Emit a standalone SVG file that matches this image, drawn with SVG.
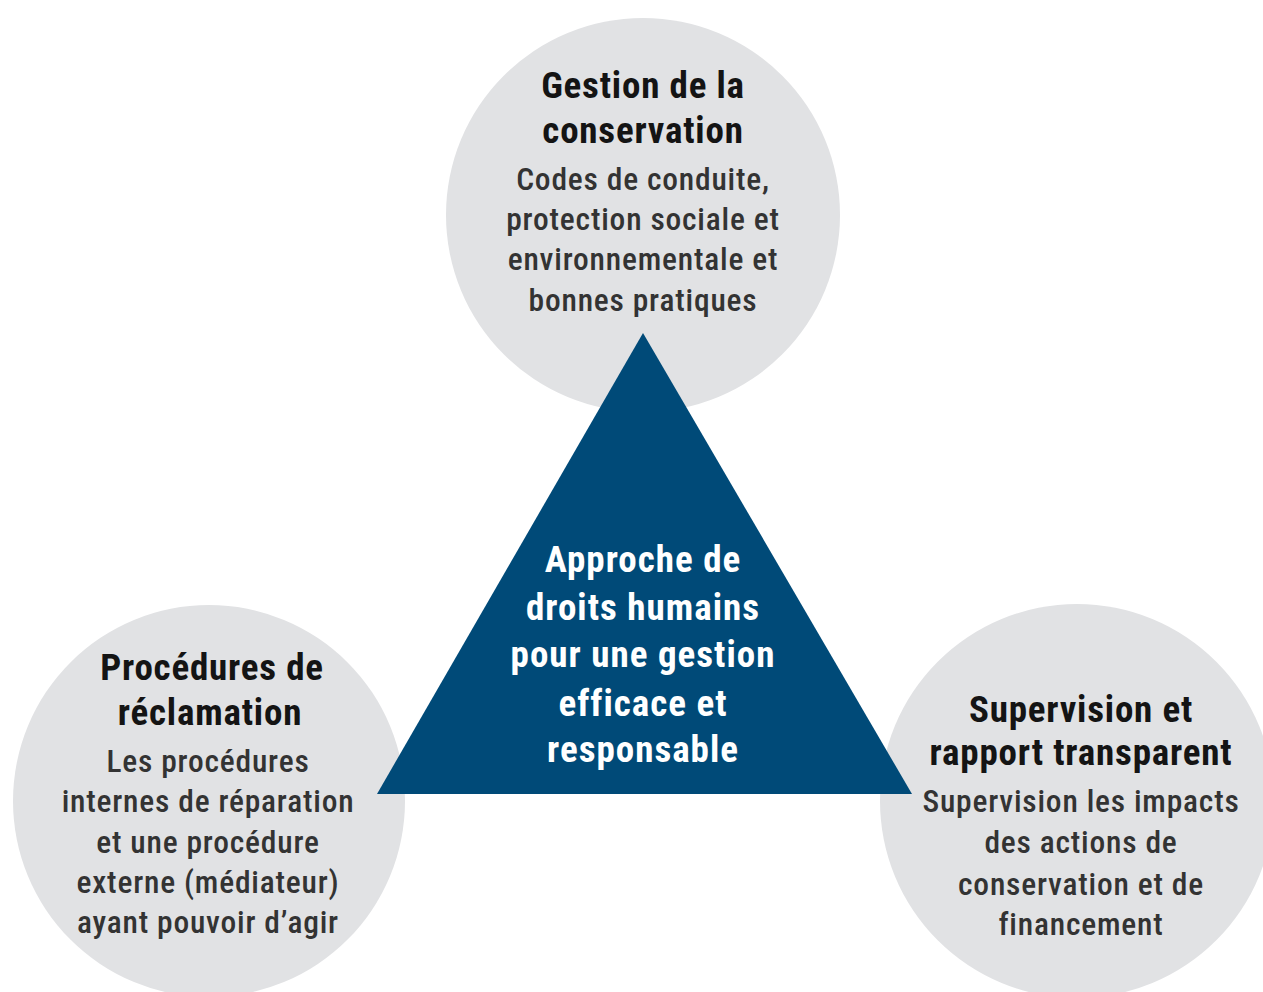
<svg xmlns="http://www.w3.org/2000/svg" width="1263" height="992" viewBox="0 0 1263 992">
<style>
.bg{fill:#ffffff}
.circle{fill:#e1e2e4}
.tri{fill:#004a78}
text{font-family:"Roboto Condensed","Liberation Sans Narrow","DejaVu Sans Condensed",Roboto,sans-serif;text-anchor:middle}
.title{font-size:37px;font-weight:700;fill:#141414;letter-spacing:0.8px}
.sub{font-size:31.5px;font-weight:500;fill:#333333;letter-spacing:0.8px}
.center{font-size:37px;font-weight:700;fill:#ffffff;letter-spacing:1px}
</style>
<rect class="bg" x="0" y="0" width="1263" height="992"/>
<g id="node-top">
<circle class="circle" cx="643" cy="215" r="197"/>
<text class="title" x="643" y="98">Gestion de la</text>
<text class="title" x="643" y="143">conservation</text>
<text class="sub" x="643" y="190">Codes de conduite,</text>
<text class="sub" x="643" y="230">protection sociale et</text>
<text class="sub" x="643" y="270">environnementale et</text>
<text class="sub" x="643" y="311">bonnes pratiques</text>
</g>
<g id="node-left">
<circle class="circle" cx="209" cy="801" r="196"/>
<text class="title" x="212" y="680">Procédures de</text>
<text class="title" x="210" y="725">réclamation</text>
<text class="sub" x="208" y="772">Les procédures</text>
<text class="sub" x="208" y="812">internes de réparation</text>
<text class="sub" x="208" y="853">et une procédure</text>
<text class="sub" x="208" y="893">externe (médiateur)</text>
<text class="sub" x="208" y="933">ayant pouvoir d’agir</text>
</g>
<g id="node-right">
<circle class="circle" cx="1077" cy="801" r="197"/>
<text class="title" x="1081" y="722">Supervision et</text>
<text class="title" x="1081" y="765">rapport transparent</text>
<text class="sub" x="1081" y="812">Supervision les impacts</text>
<text class="sub" x="1081" y="853">des actions de</text>
<text class="sub" x="1081" y="895">conservation et de</text>
<text class="sub" x="1081" y="935">financement</text>
</g>
<g id="node-center">
<polygon class="tri" points="643,333 377,794 912,794"/>
<text class="center" x="643" y="572">Approche de</text>
<text class="center" x="643" y="620">droits humains</text>
<text class="center" x="643" y="667">pour une gestion</text>
<text class="center" x="643" y="716">efficace et</text>
<text class="center" x="643" y="762">responsable</text>
</g>
<g id="connectors"></g>
</svg>
